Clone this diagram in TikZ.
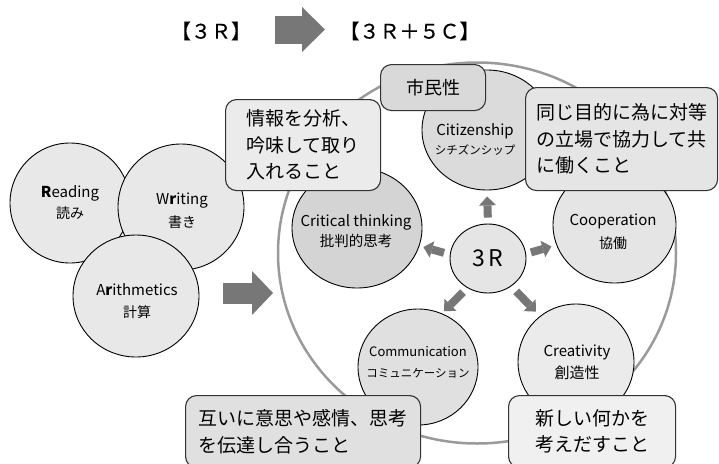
\documentclass[tikz,border=0pt]{standalone}
\usepackage{fontspec}
\setmainfont{Noto Sans CJK JP}
\newfontfamily\titlefont[FakeBold=0.6]{Noto Sans CJK JP}
\usetikzlibrary{shapes.geometric,arrows.meta}
\definecolor{arrowgray}{HTML}{777777}
\definecolor{ringgray}{HTML}{9A9A9A}
\begin{document}
\begin{tikzpicture}[x=1pt,y=-1pt,
  circ/.style={ellipse, draw=black, line width=0.9pt, inner sep=0pt},
  lbl/.style={align=center, inner sep=0pt},
  callout/.style={draw=black!80, line width=1.1pt, rounded corners=11pt, inner sep=0pt, align=left, font=\fontsize{19}{26.5}\selectfont},
  barrow/.style={draw=arrowgray, line width=8pt, -{Triangle[width=17pt,length=9pt,line width=0pt]}}
]
\useasboundingbox (0,0) rectangle (719,463);

% title
\node[lbl, font=\titlefont\fontsize{20}{24}\selectfont] (t1) at (211,31) {【３Ｒ】};
\node[lbl, font=\titlefont\fontsize{20}{24}\selectfont] (t2) at (409.5,31) {【３Ｒ＋５Ｃ】};
\coordinate (ta1) at (275,29.5);
\coordinate (ta2) at (325,29.5);
\draw[draw=arrowgray, line width=28pt, -{Triangle[width=45pt,length=23pt,line width=0pt]}] (ta1) -- (ta2);

% big ring
\node[ellipse, draw=ringgray, line width=2.5pt, minimum width=398pt, minimum height=381pt, inner sep=0pt] (ring) at (477,253) {};

% 3R group
\node[circ, fill=black!9, minimum width=120pt, minimum height=120pt] (read) at (70,203) {};
\node[lbl, font=\fontsize{15}{21}\selectfont] (readl) at (70,202.5) {\textbf{R}eading\\\fontsize{14}{21}\selectfont 読み};
\node[circ, fill=black!9, minimum width=126pt, minimum height=126pt] (writ) at (181,207) {};
\node[lbl, font=\fontsize{15}{23}\selectfont] (writl) at (182,210.5) {W\textbf{r}iting\\\fontsize{14}{23}\selectfont 書き};
\node[circ, fill=black!9, minimum width=126pt, minimum height=122pt] (arit) at (136,296) {};
\node[lbl, font=\fontsize{15}{22}\selectfont] (aritl) at (137,301) {A\textbf{r}ithmetics\\\fontsize{14}{22}\selectfont 計算};

% big arrow
\coordinate (ba1) at (223,293);
\coordinate (ba2) at (273,293);
\draw[draw=arrowgray, line width=21pt, -{Triangle[width=44pt,length=21pt,line width=0pt]}] (ba1) -- (ba2);

% 5C circles
\node[circ, fill=black!14, minimum width=130pt, minimum height=120pt] (cit) at (487,130) {};
\node[lbl, font=\fontsize{15}{19}\selectfont] (citl) at (475,139.5) {Citizenship\\\fontsize{11.5}{19}\selectfont シチズンシップ};
\node[circ, fill=black!17, minimum width=130pt, minimum height=120pt] (crit) at (357,228) {};
\node[lbl, font=\fontsize{15}{20}\selectfont] (critl) at (356,231) {Critical thinking\\\fontsize{14.5}{20}\selectfont 批判的思考};
\node[circ, fill=black!10, minimum width=123pt, minimum height=116pt] (coop) at (614.5,225) {};
\node[lbl, font=\fontsize{15}{23}\selectfont] (coopl) at (613,231.5) {Cooperation\\\fontsize{14}{23}\selectfont 協働};
\node[circ, fill=black!12, minimum width=120pt, minimum height=116pt] (comm) at (418,367) {};
\node[lbl, font=\fontsize{13}{21}\selectfont] (comml) at (418,362.5) {Communication\\\fontsize{11.5}{21}\selectfont コミュニケーション};
\node[circ, fill=black!8, minimum width=116pt, minimum height=116pt] (crea) at (576,362) {};
\node[lbl, font=\fontsize{15}{22}\selectfont] (creal) at (577,362) {Creativity\\創造性};

\node[circ, fill=black!10, minimum width=76pt, minimum height=69pt, font=\fontsize{23}{23}\selectfont] (r3) at (488,258.5) {3\kern3pt R};

% arrows from 3R
\draw[barrow, shorten <=6pt, shorten >=6pt] (r3.90) -- (cit.270);
\draw[barrow, shorten <=6pt, shorten >=4pt] (r3.174) -- (crit.344);
\draw[barrow, shorten <=5pt, shorten >=5pt] (r3.7) -- (coop.199);
\draw[barrow, shorten <=6pt, shorten >=3pt] (r3.235) -- (comm.66);
\draw[barrow, shorten <=7pt, shorten >=6pt] (r3.310) -- (crea.128);

% callouts
\node[callout, fill=black!15, minimum width=105pt, minimum height=46pt, anchor=north west, align=center, font=\fontsize{18}{22}\selectfont] (shimin) at (380,64) {市民性};
\node[callout, fill=black!8, minimum width=155pt, minimum height=91pt, anchor=north west] (info) at (225,99) {情報を分析、\\吟味して取り\\入れること};
\node[callout, fill=black!10, minimum width=192pt, minimum height=103pt, anchor=north west] (onaji) at (525,87) {同じ目的に為に対等\\の立場で協力して共\\に働くこと};
\node[callout, fill=black!12, minimum width=235pt, minimum height=72pt, anchor=north west] (tagai) at (185,395) {互いに意思や感情、思考\\を伝達し合うこと};
\node[callout, fill=black!6, minimum width=167pt, minimum height=72pt, anchor=north west, align=center] (atara) at (508,395) {新しい何かを\\考えだすこと};
\end{tikzpicture}
\end{document}
